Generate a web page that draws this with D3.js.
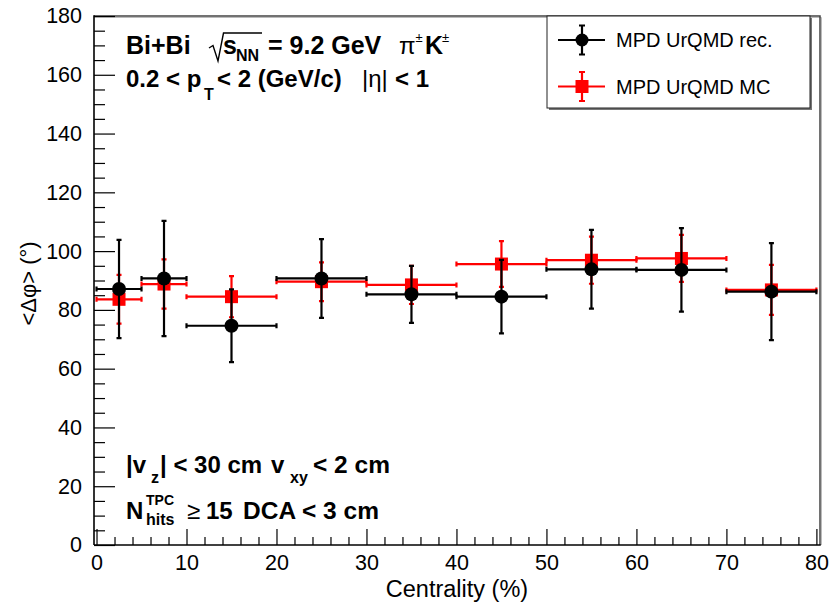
<!DOCTYPE html>
<html>
<head>
<meta charset="utf-8">
<script src="https://cdn.jsdelivr.net/npm/d3@7"></script>
<style>
  html, body { margin: 0; padding: 0; background: #fff; }
  svg { display: block; }
  text { font-family: "Liberation Sans", Arial, Helvetica, sans-serif; fill: #000; }
</style>
</head>
<body>
<svg id="chart" width="840" height="604"></svg>
<script>
// Centrality bins (%)
const binLow  = [0, 5, 10, 20, 30, 40, 50, 60, 70];
const binHigh = [5, 10, 20, 30, 40, 50, 60, 70, 80];

// <Δφ> (degrees) and statistical errors
const recValues = [87.1, 90.7, 74.6, 90.7, 85.3, 84.5, 93.8, 93.6, 86.2];
const recErrors = [16.7, 19.6, 12.4, 13.4, 9.7, 12.5, 13.4, 14.2, 16.5];
const mcValues  = [83.6, 88.8, 84.5, 89.6, 88.5, 95.6, 96.9, 97.5, 86.8];
const mcErrors  = [8.3, 8.4, 7.0, 6.6, 6.5, 7.8, 8.0, 8.0, 8.5];

const xMajorTicks = [0, 10, 20, 30, 40, 50, 60, 70, 80];
const yMajorTicks = [0, 20, 40, 60, 80, 100, 120, 140, 160, 180];

const seriesNames = ["MPD UrQMD rec.", "MPD UrQMD MC"];

const svg = d3.select("#chart");

const frame = { left: 94, right: 820, top: 16, bottom: 545 };

const x = d3.scaleLinear().domain([-0.28, 80.4]).range([frame.left, frame.right]);
const y = d3.scaleLinear().domain([0, 180]).range([frame.bottom, frame.top]);

// frame (top / right with a light shadow)
svg.append("path")
  .attr("d", `M${frame.left},${frame.top + 1.5}H${frame.right + 1.5}V${frame.bottom}`)
  .attr("fill", "none").attr("stroke", "#bbb").attr("stroke-width", 1);
svg.append("path")
  .attr("d", `M${frame.left},${frame.top}H${frame.right}V${frame.bottom}`)
  .attr("fill", "none").attr("stroke", "#444").attr("stroke-width", 1.5);

// x axis: major + minor ticks pointing inward
const xMinor = d3.range(0, 81, 2).filter(v => v % 10 !== 0);
const xAxisG = svg.append("g").attr("transform", `translate(0,${frame.bottom})`);
xAxisG.call(d3.axisBottom(x).tickValues(xMinor).tickSize(-8).tickSizeOuter(0).tickFormat(""));
const xMajG = svg.append("g").attr("transform", `translate(0,${frame.bottom})`);
xMajG.call(d3.axisBottom(x).tickValues(xMajorTicks).tickSize(-16).tickSizeOuter(0).tickPadding(10).tickFormat(d3.format("d")));
[xAxisG, xMajG].forEach(g => {
  g.select(".domain").remove();
  g.selectAll("line").attr("stroke", "#000").attr("stroke-width", 1.2);
});
xMajG.selectAll("text").attr("font-size", 21.5).attr("dy", "0.71em")
  .style("font-family", "'Liberation Sans', Arial, sans-serif");

// y axis
const yMinor = d3.range(0, 181, 5).filter(v => v % 20 !== 0);
const yAxisG = svg.append("g").attr("transform", `translate(${frame.left},0)`);
yAxisG.call(d3.axisLeft(y).tickValues(yMinor).tickSize(-11).tickSizeOuter(0).tickFormat(""));
const yMajG = svg.append("g").attr("transform", `translate(${frame.left},0)`);
yMajG.call(d3.axisLeft(y).tickValues(yMajorTicks).tickSize(-21).tickSizeOuter(0).tickPadding(12).tickFormat(d3.format("d")));
[yAxisG, yMajG].forEach(g => {
  g.select(".domain").remove();
  g.selectAll("line").attr("stroke", "#000").attr("stroke-width", 1.2);
});
yMajG.selectAll("text").attr("font-size", 21.5)
  .style("font-family", "'Liberation Sans', Arial, sans-serif");

// axis lines
svg.append("line").attr("x1", frame.left).attr("x2", frame.right + 0.75)
  .attr("y1", frame.bottom).attr("y2", frame.bottom).attr("stroke", "#000").attr("stroke-width", 1.6);
svg.append("line").attr("x1", frame.left).attr("x2", frame.left)
  .attr("y1", frame.top - 0.75).attr("y2", frame.bottom).attr("stroke", "#000").attr("stroke-width", 1.6);

// axis titles
svg.append("text").attr("x", (frame.left + frame.right) / 2).attr("y", 597)
  .attr("text-anchor", "middle").attr("font-size", 23.5).text("Centrality (%)");
svg.append("text")
  .attr("transform", `translate(36,${(frame.top + frame.bottom) / 2 + 3}) rotate(-90)`)
  .attr("text-anchor", "middle").attr("font-size", 22).text("<Δφ> (°)");

// error bars with small end caps
function drawSeries(values, errors, color, marker) {
  const g = svg.append("g");
  const cap = 2.5;
  values.forEach((v, i) => {
    const cx = x((binLow[i] + binHigh[i]) / 2);
    const cy = y(v);
    const x0 = x(binLow[i]), x1 = x(binHigh[i]);
    const yTop = y(v + errors[i]), yBot = y(v - errors[i]);
    const path = [
      `M${x0},${cy}H${x1}`,
      `M${x0},${cy - cap}V${cy + cap}`,
      `M${x1},${cy - cap}V${cy + cap}`,
      `M${cx},${yTop}V${yBot}`,
      `M${cx - cap},${yTop}H${cx + cap}`,
      `M${cx - cap},${yBot}H${cx + cap}`
    ].join("");
    g.append("path").attr("d", path).attr("fill", "none")
      .attr("stroke", color).attr("stroke-width", 2.2);
  });
  values.forEach((v, i) => {
    const cx = x((binLow[i] + binHigh[i]) / 2);
    const cy = y(v);
    if (marker === "circle") {
      g.append("circle").attr("cx", cx).attr("cy", cy).attr("r", 7).attr("fill", color);
    } else {
      g.append("rect").attr("x", cx - 6.5).attr("y", cy - 6.5)
        .attr("width", 13).attr("height", 13).attr("fill", color);
    }
  });
}
drawSeries(mcValues, mcErrors, "#ff0000", "square");
drawSeries(recValues, recErrors, "#000000", "circle");

// legend
const leg = { x: 547, y: 16, w: 263, h: 92 };
svg.append("path")
  .attr("d", `M${leg.x + 2},${leg.y + leg.h + 1}H${leg.x + leg.w + 1}V${leg.y + 2}`)
  .attr("fill", "none").attr("stroke", "#777").attr("stroke-width", 2);
svg.append("rect").attr("x", leg.x).attr("y", leg.y).attr("width", leg.w).attr("height", leg.h)
  .attr("fill", "#fff").attr("stroke", "#222").attr("stroke-width", 1);
const legendRows = [
  { name: seriesNames[0], color: "#000000", marker: "circle", cy: 40 },
  { name: seriesNames[1], color: "#ff0000", marker: "square", cy: 86.5 }
];
legendRows.forEach(r => {
  const cx = 582;
  svg.append("path")
    .attr("d", `M558,${r.cy}H605M${cx},${r.cy - 14.5}V${r.cy + 14.5}M${cx - 3},${r.cy - 14.5}H${cx + 3}M${cx - 3},${r.cy + 14.5}H${cx + 3}`)
    .attr("fill", "none").attr("stroke", r.color).attr("stroke-width", 2.2);
  if (r.marker === "circle") {
    svg.append("circle").attr("cx", cx).attr("cy", r.cy).attr("r", 6.5).attr("fill", r.color);
  } else {
    svg.append("rect").attr("x", cx - 6.5).attr("y", r.cy - 6.5).attr("width", 13).attr("height", 13).attr("fill", r.color);
  }
  svg.append("text").attr("x", 616).attr("y", r.cy + 7).attr("font-size", 20).text(r.name);
});

// annotation helpers
function label(xp, yp, str, size, weight) {
  return svg.append("text").attr("x", xp).attr("y", yp)
    .attr("font-size", size).attr("font-weight", weight || "bold").text(str);
}

// line 1: collision system
label(126, 54, "Bi+Bi", 25);
svg.append("path").attr("d", "M209,48L213,45.5L218,61L223.5,33H262")
  .attr("fill", "none").attr("stroke", "#000").attr("stroke-width", 1.4);
label(223, 54, "s", 25);
label(236, 61, "NN", 16);
label(268, 54, "= 9.2 GeV", 25);
label(399, 54, "π", 24, "normal");
label(415.5, 42, "±", 13, "normal");
label(425, 54, "K", 25);
label(442, 42, "±", 13, "normal");

// line 2: kinematic cuts
label(126, 87, "0.2 < p", 24);
label(204, 100, "T", 16);
label(217, 87, "< 2 (GeV/c)", 24);
label(362, 87, "|η|", 24, "normal");
label(395, 87, "< 1", 24);

// bottom text: event and track cuts
label(126, 473, "|v", 24);
label(151, 483, "z", 16);
label(160, 473, "| < 30 cm", 24);
label(271, 473, "v", 24);
label(290, 483, "xy", 16);
label(313, 473, "< 2 cm", 24.5);

label(126, 519, "N", 24);
label(146, 505, "TPC", 14);
label(146, 525, "hits", 16);
label(187, 519, "≥", 24, "normal");
label(206, 519, "15", 24);
label(243, 519, "DCA < 3 cm", 24.5);
</script>
</body>
</html>
